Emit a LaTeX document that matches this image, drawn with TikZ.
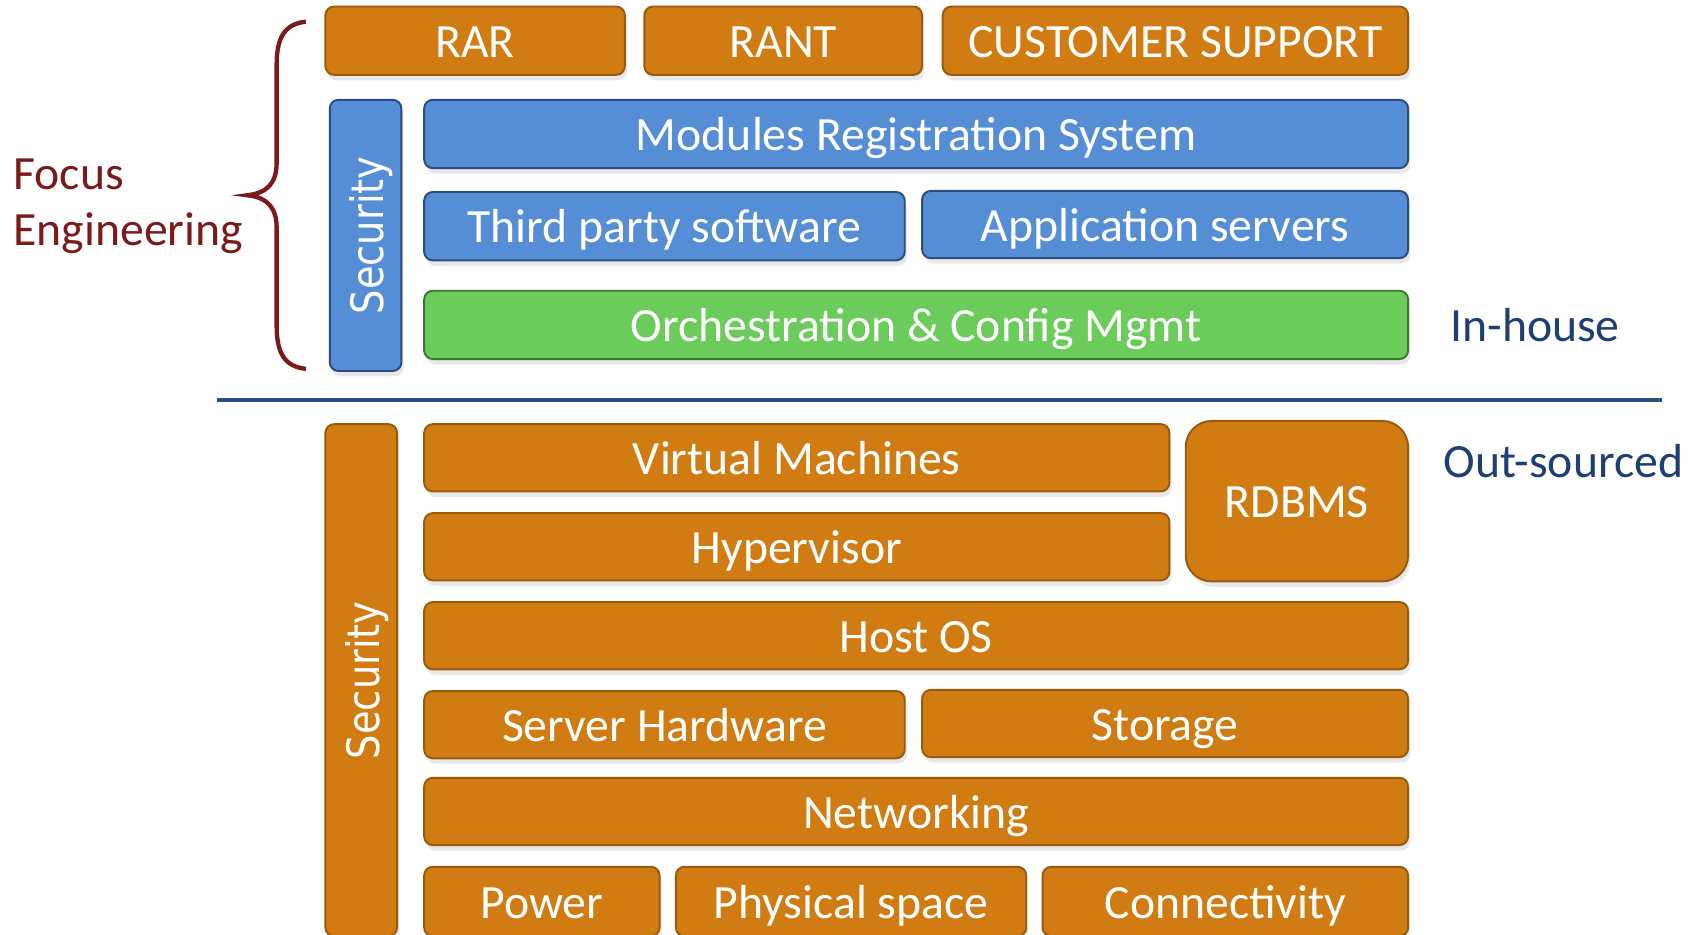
\documentclass[tikz,border=0pt]{standalone}
\usepackage{fontspec}
\setmainfont{Carlito}
\newfontfamily\secfont[FakeStretch=0.86]{DejaVu Sans}
\usetikzlibrary{shadows}
\definecolor{org}{HTML}{D07C12}
\definecolor{orgd}{HTML}{9A5A0C}
\definecolor{blu}{HTML}{558ED5}
\definecolor{blud}{HTML}{2B4C7E}
\definecolor{grn}{HTML}{6BCC5C}
\definecolor{grnd}{HTML}{3A7A2C}
\definecolor{navy}{HTML}{1F3F74}
\definecolor{lineblue}{HTML}{2A4E86}
\definecolor{maroon}{HTML}{7A1A1A}
\tikzset{
 base/.style={rounded corners=4pt, line width=0.9pt, inner sep=0pt, text=white,
   font=\fontsize{22}{26}\selectfont, text height=19pt, text depth=3.7pt,
   drop shadow={shadow xshift=1pt, shadow yshift=-2.5pt, opacity=0.18}},
 obox/.style={base, fill=org, draw=orgd},
 bbox/.style={base, fill=blu, draw=blud},
 gbox/.style={base, fill=grn, draw=grnd},
 sec/.style={rotate=90, font=\secfont\fontsize{20.6}{24}\selectfont, text height=18.5pt, text depth=2.1pt},
 side/.style={text=navy, font=\fontsize{22}{26}\selectfont, inner sep=0pt},
}
% box from (x1,y1) to (x2,y2) in picture units
\newcommand\bx[7]{\node[#1, minimum width={(#5-#3)*0.5pt}, minimum height={(#6-#4)*0.5pt}] (#2) at ({(#3+#5)/2},{(#4+#6)/2}) {#7};}
\begin{document}
\begin{tikzpicture}[x=0.5pt, y=-0.5pt]
\clip (0,0) rectangle (1568,861);
\fill[white] (0,0) rectangle (1568,861);
% top row
\bx{obox}{rar}{300}{6}{576}{69}{RAR}
\bx{obox}{rant}{594}{6}{850}{69}{RANT}
\bx{obox}{cs}{869}{6}{1298}{69}{CUSTOMER SUPPORT}
% in-house
\node[bbox, sec, minimum width=125pt, minimum height=33pt] (secb) at (337,217) {Security};
\bx{bbox}{mrs}{391}{92}{1298}{155}{Modules Registration System}
\bx{bbox}{tps}{391}{177}{834}{240}{Third party software}
\bx{bbox}{apps}{850}{176}{1298}{238}{Application servers}
\bx{gbox}{orch}{391}{268}{1298}{331}{Orchestration \& Config Mgmt}
\node[side] (inh) at (1415,300) {In-house};
% separator
\coordinate (l1) at (200,369);
\coordinate (l2) at (1532,369);
\draw[line width=2pt, lineblue] (l1) -- (l2);
% brace
\draw[maroon, line width=2pt] (282,20) .. controls (262,22) and (255,35) .. (255,60)
  -- (255,150) .. controls (255,168) and (247,178) .. (228,180)
  .. controls (247,182) and (255,192) .. (255,210)
  -- (255,300) .. controls (255,325) and (262,338) .. (282,340);
\node[text=maroon, font=\fontsize{22}{26}\selectfont, align=left, anchor=west, inner sep=0pt] (fe) at (12,190) {Focus\\Engineering};
% out-sourced
\node[obox, sec, minimum width=236pt, minimum height=33pt] (seco) at (333,627) {Security};
\bx{obox}{vm}{391}{391}{1078}{453}{Virtual Machines}
\node[obox, rounded corners=12pt, minimum width=102.5pt, minimum height=74pt] (rdbms) at (1195.5,462) {RDBMS};
\bx{obox}{hyp}{391}{473}{1078}{535}{Hypervisor}
\bx{obox}{hos}{391}{555}{1298}{617}{Host OS}
\bx{obox}{shw}{391}{637}{834}{699}{Server Hardware}
\bx{obox}{sto}{850}{636}{1298}{698}{Storage}
\bx{obox}{net}{391}{717}{1298}{779}{Networking}
\bx{obox}{pow}{391}{799}{608}{863}{Power}
\bx{obox}{phy}{623}{799}{946}{863}{Physical space}
\bx{obox}{con}{961}{799}{1298}{863}{Connectivity}
\node[side] (outs) at (1441,425) {Out-sourced};
\end{tikzpicture}
\end{document}
